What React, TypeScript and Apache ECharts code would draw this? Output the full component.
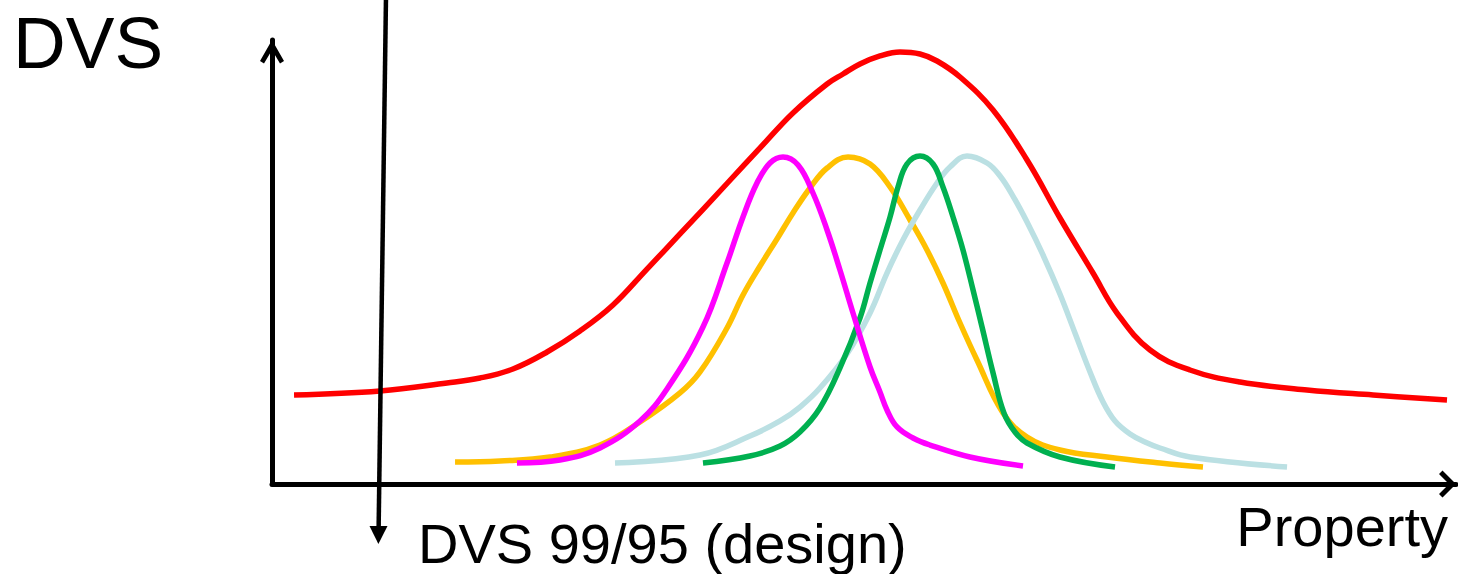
import React, { useEffect, useRef } from "react";
import * as echarts from "echarts";

// Axis ranges (arbitrary units: Property 0..100, DVS 0..100)
const xRange = [0, 100];
const yRange = [0, 100];

// Overall DVS distribution (red)
const redCurve: number[][] = [
  [1.86, 20.05], [9.12, 20.95], [14.78, 22.75], [17.57, 23.87], [20.35, 25.9], [23.23, 29.73],
  [26.01, 34.46], [28.8, 40.32], [31.67, 48.42], [34.46, 56.31], [38.43, 67.68], [41.22, 75.68],
  [44.0, 83.56], [46.88, 90.09], [48.23, 92.34], [49.66, 94.59], [51.35, 96.4], [53.04, 97.3],
  [54.73, 96.85], [56.17, 95.27], [58.11, 91.67], [60.9, 84.23], [63.77, 72.97], [66.55, 59.91],
  [69.34, 47.52], [71.37, 38.51], [74.16, 30.18], [77.53, 25.68], [81.76, 22.97], [87.42, 21.17],
  [92.99, 20.05], [99.24, 18.92],
];

// Sub-populations
const magentaCurve: number[][] = [
  [20.69, 4.73], [24.32, 5.41], [27.7, 8.11], [31.08, 14.19], [33.36, 21.4], [36.4, 35.36],
  [38.43, 49.77], [39.78, 60.14], [40.96, 67.79], [42.06, 72.3], [43.16, 73.65], [44.43, 71.85],
  [45.69, 65.54], [46.88, 57.21], [47.97, 48.2], [49.07, 38.51], [50.51, 26.35], [51.35, 20.72],
  [51.94, 16.67], [52.79, 12.84], [54.14, 10.36], [55.57, 8.78], [58.95, 6.08], [63.43, 4.05],
];

const orangeCurve: number[][] = [
  [15.46, 4.95], [19.26, 5.18], [23.48, 6.08], [27.7, 8.78], [31.08, 13.96], [34.46, 20.5],
  [36.15, 25.23], [38.43, 35.14], [39.78, 42.57], [41.22, 49.1], [42.65, 55.18], [44.0, 61.04],
  [45.44, 66.67], [46.88, 71.17], [48.65, 73.65], [50.51, 72.07], [52.2, 66.89], [53.89, 59.46],
  [55.32, 52.7], [56.67, 45.27], [58.11, 36.26], [59.54, 27.93], [61.74, 15.99], [63.77, 10.59],
  [66.55, 7.66], [70.52, 6.08], [75.0, 4.73], [78.63, 3.83],
];

const greenCurve: number[][] = [
  [36.4, 4.73], [40.37, 6.31], [42.91, 8.56], [44.59, 11.71], [46.28, 17.12], [47.97, 26.13],
  [49.66, 37.39], [50.51, 45.27], [51.35, 52.7], [52.2, 60.14], [52.87, 66.89], [53.63, 72.07],
  [54.73, 73.87], [55.83, 72.07], [56.67, 66.89], [57.52, 60.14], [58.36, 52.7], [59.21, 43.69],
  [59.97, 35.36], [60.9, 25.0], [61.82, 15.99], [62.75, 11.71], [63.77, 9.23], [66.55, 6.08],
  [71.2, 3.83],
];

const blueCurve: number[][] = [
  [28.97, 4.73], [36.15, 6.53], [40.37, 10.81], [42.91, 14.19], [44.59, 17.34], [46.28, 21.62],
  [48.56, 29.28], [50.51, 38.51], [51.94, 47.52], [53.29, 54.95], [54.73, 61.71], [56.17, 67.79],
  [57.26, 71.4], [58.7, 73.87], [60.39, 72.3], [61.49, 69.37], [62.58, 64.86], [63.77, 59.01],
  [65.12, 51.58], [66.55, 42.79], [67.82, 34.01], [69.09, 25.23], [70.19, 18.47], [71.2, 14.19],
  [72.47, 11.26], [73.73, 9.46], [75.0, 8.11], [77.53, 6.08], [85.73, 3.83],
];

const labels = {
  yName: "DVS",
  xName: "Property",
  design: "DVS 99/95 (design)",
};

const FONT = "'Liberation Sans', Arial, Helvetica, sans-serif";

export default function App() {
  const ref = useRef<HTMLDivElement>(null);

  useEffect(() => {
    if (!ref.current) return;
    const chart = echarts.init(ref.current, undefined, { renderer: "svg" });

    const curve = (name: string, data: number[][], color: string) => ({
      name,
      type: "line",
      data,
      smooth: 0.4,
      showSymbol: false,
      symbol: "none",
      clip: false,
      lineStyle: { color, width: 5.5, cap: "butt", join: "round" },
      emphasis: { disabled: true },
      silent: true,
    });

    const yArrow = "path://M12,0 L24,21 L20,23.5 L12,10 L4,23.5 L0,21 Z";
    const xArrow = "path://M13.5,0 L27,13.5 L23.5,17 L13.5,7 L3.5,17 L0,13.5 Z";

    chart.setOption({
      animation: false,
      backgroundColor: "#ffffff",
      grid: { left: 272, right: 2, top: 40, bottom: 90, containLabel: false },
      xAxis: {
        type: "value",
        min: xRange[0],
        max: xRange[1],
        axisLine: {
          show: true,
          onZero: false,
          symbol: ["none", xArrow],
          symbolSize: [27, 17],
          symbolOffset: [0, -8.5],
          lineStyle: { color: "#000", width: 5 },
        },
        axisTick: { show: false },
        axisLabel: { show: false },
        splitLine: { show: false },
      },
      yAxis: {
        type: "value",
        min: yRange[0],
        max: yRange[1],
        axisLine: {
          show: true,
          onZero: false,
          symbol: ["none", yArrow],
          symbolSize: [24, 23.5],
          symbolOffset: [0, -11.75],
          lineStyle: { color: "#000", width: 5 },
        },
        axisTick: { show: false },
        axisLabel: { show: false },
        splitLine: { show: false },
      },
      series: [
        curve("Overall", redCurve, "#FF0000"),
        curve("Population B", orangeCurve, "#FFC000"),
        curve("Population D", blueCurve, "#BBE0E3"),
        curve("Population C", greenCurve, "#00B050"),
        curve("Population A", magentaCurve, "#FF00FF"),
      ],
      graphic: [
        {
          type: "line",
          z: 100,
          shape: { x1: 386, y1: -4, x2: 378.6, y2: 530 },
          style: { stroke: "#000", lineWidth: 4.5 },
        },
        {
          type: "polygon",
          z: 100,
          shape: { points: [[369.5, 526], [387.5, 526], [378.4, 544]] },
          style: { fill: "#000" },
        },
        {
          type: "text",
          z: 100,
          x: 13,
          y: 42,
          style: {
            text: labels.yName,
            font: `73px ${FONT}`,
            fill: "#000",
            textAlign: "left",
            textVerticalAlign: "middle",
          },
        },
        {
          type: "text",
          z: 100,
          x: 1448,
          y: 526,
          style: {
            text: labels.xName,
            font: `56px ${FONT}`,
            fill: "#000",
            textAlign: "right",
            textVerticalAlign: "middle",
          },
        },
        {
          type: "text",
          z: 100,
          x: 418,
          y: 543,
          style: {
            text: labels.design,
            font: `56px ${FONT}`,
            fill: "#000",
            textAlign: "left",
            textVerticalAlign: "middle",
          },
        },
      ],
    });

    return () => chart.dispose();
  }, []);

  return (
    <div
      ref={ref}
      style={{ position: "fixed", left: 0, top: 0, width: 1458, height: 574, background: "#fff" }}
    />
  );
}
